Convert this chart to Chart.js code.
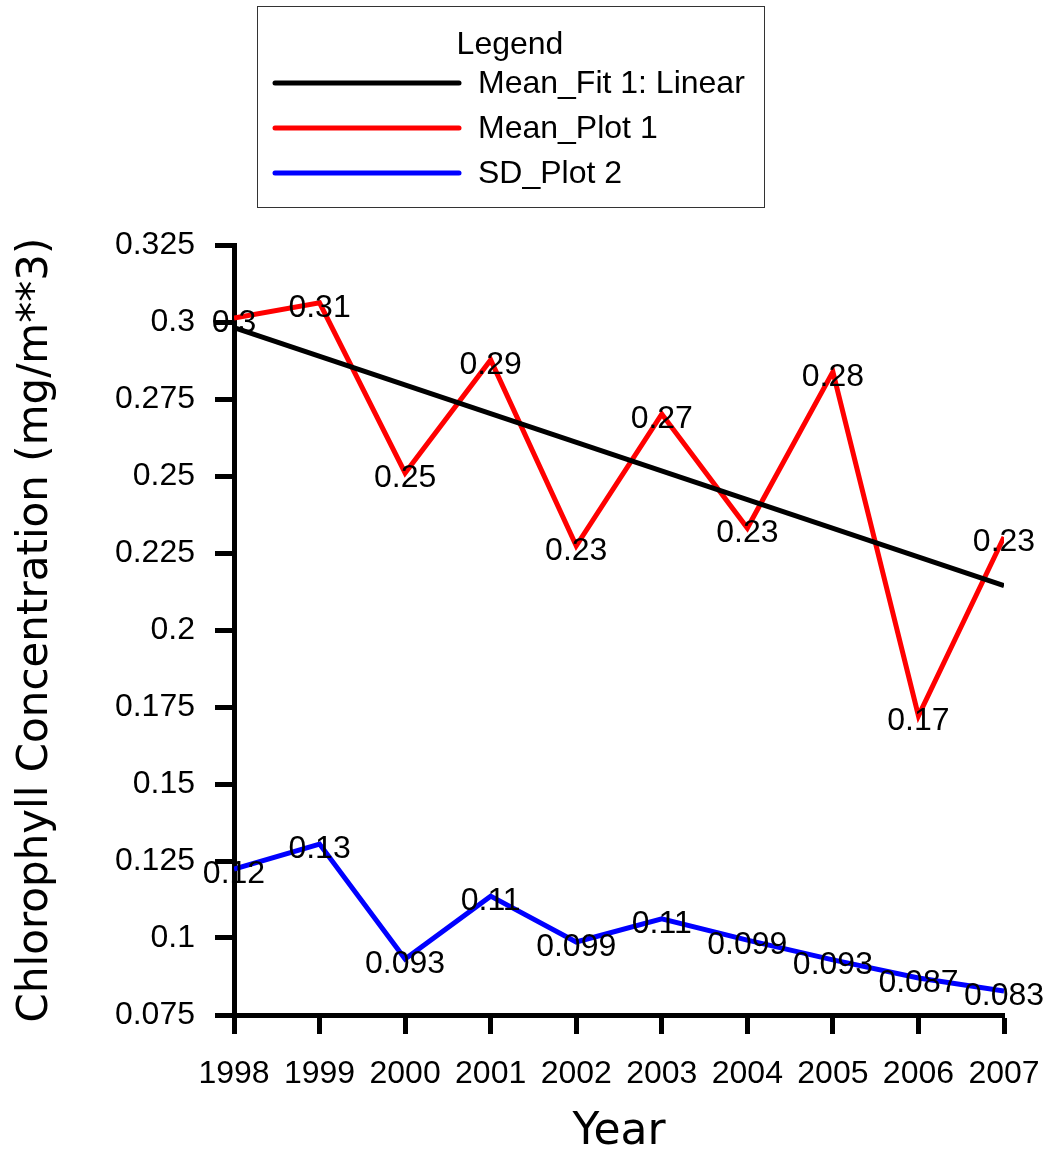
<!DOCTYPE html>
<html>
<head>
<meta charset="utf-8">
<script src="https://cdn.jsdelivr.net/npm/chart.js@4/dist/chart.umd.min.js"></script>
<style>
  html, body { margin: 0; padding: 0; background: #fff; }
  #wrap { width: 1048px; height: 1151px; }
</style>
</head>
<body>
<div id="wrap"><canvas id="chart" width="1048" height="1151"></canvas></div>
<script>
const years = [1998, 1999, 2000, 2001, 2002, 2003, 2004, 2005, 2006, 2007];
const meanValues = [0.3013, 0.3062, 0.251, 0.2877, 0.2273, 0.2701, 0.2331, 0.2838, 0.1721, 0.2302];
const sdValues = [0.1224, 0.1305, 0.0932, 0.1136, 0.0987, 0.1062, 0.0993, 0.0929, 0.0870, 0.0828];
const fitYears = [1998, 2007];
const fitValues = [0.2982, 0.2144];

const FONT = 'Liberation Sans, Arial, sans-serif';
const TITLE_FONT = 'DejaVu Sans, Verdana, sans-serif';
const TEXT_SIZE = 32;

function fmt(v) {
  return String(parseFloat(Number(v).toPrecision(2)));
}

// value labels next to each point
const pointLabels = {
  id: 'pointLabels',
  afterDatasetsDraw(chart) {
    const ctx = chart.ctx;
    ctx.save();
    ctx.font = TEXT_SIZE + 'px ' + FONT;
    ctx.fillStyle = '#000';
    ctx.textAlign = 'center';
    ctx.textBaseline = 'middle';
    chart.data.datasets.forEach((ds, i) => {
      if (!ds.showValues) return;
      chart.getDatasetMeta(i).data.forEach((pt, j) => {
        ctx.fillText(fmt(ds.data[j].y), pt.x, pt.y + 5);
      });
    });
    ctx.restore();
  }
};

// boxed legend at the top
const boxLegend = {
  id: 'boxLegend',
  afterDraw(chart) {
    const ctx = chart.ctx;
    ctx.save();
    ctx.strokeStyle = '#333';
    ctx.lineWidth = 1;
    ctx.strokeRect(257.5, 6.5, 507, 201);
    ctx.fillStyle = '#000';
    ctx.font = TEXT_SIZE + 'px ' + FONT;
    ctx.textBaseline = 'middle';
    ctx.textAlign = 'center';
    ctx.fillText('Legend', 510, 45);
    ctx.textAlign = 'left';
    chart.data.datasets.forEach((ds, k) => {
      const y = 84 + k * 45;
      ctx.strokeStyle = ds.borderColor;
      ctx.lineWidth = 5;
      ctx.lineCap = 'round';
      ctx.beginPath();
      ctx.moveTo(275, y - 1);
      ctx.lineTo(459, y - 1);
      ctx.stroke();
      ctx.fillText(ds.label, 478, y);
    });
    ctx.restore();
  }
};

const ctx = document.getElementById('chart').getContext('2d');
new Chart(ctx, {
  type: 'line',
  data: {
    datasets: [
      {
        label: 'Mean_Fit 1: Linear',
        data: fitYears.map((x, i) => ({ x: x, y: fitValues[i] })),
        borderColor: '#000000',
        borderWidth: 5,
        pointRadius: 0,
        showValues: false
      },
      {
        label: 'Mean_Plot 1',
        data: years.map((x, i) => ({ x: x, y: meanValues[i] })),
        borderColor: '#ff0000',
        borderWidth: 5,
        pointRadius: 0,
        showValues: true
      },
      {
        label: 'SD_Plot 2',
        data: years.map((x, i) => ({ x: x, y: sdValues[i] })),
        borderColor: '#0000ff',
        borderWidth: 5,
        pointRadius: 0,
        showValues: true
      }
    ]
  },
  options: {
    responsive: false,
    animation: false,
    devicePixelRatio: 1,
    layout: { padding: { top: 245, right: 44, left: 0, bottom: 0 } },
    plugins: {
      legend: { display: false },
      tooltip: { enabled: false }
    },
    scales: {
      x: {
        type: 'linear',
        min: 1998,
        max: 2007,
        afterFit(scale) {
          scale.height = 136;
          scale.paddingLeft = 0;
          scale.paddingRight = 0;
        },
        grid: { drawOnChartArea: false, drawTicks: true, tickLength: 19, tickWidth: 5, color: '#000' },
        border: { display: true, color: '#000', width: 5 },
        ticks: {
          stepSize: 1,
          padding: 21,
          color: '#000',
          font: { family: FONT, size: TEXT_SIZE },
          maxRotation: 0,
          callback: v => String(v)
        },
        title: {
          display: true,
          text: 'Year',
          color: '#000',
          font: { family: TITLE_FONT, size: 44, lineHeight: 0.85 },
          padding: { top: 0, bottom: 0 }
        }
      },
      y: {
        min: 0.075,
        max: 0.325,
        afterFit(scale) {
          scale.width = 234;
          scale.paddingTop = 0;
          scale.paddingBottom = 0;
        },
        grid: { drawOnChartArea: false, drawTicks: true, tickLength: 19, tickWidth: 5, color: '#000' },
        border: { display: true, color: '#000', width: 5 },
        ticks: {
          stepSize: 0.025,
          padding: 20,
          color: '#000',
          font: { family: FONT, size: TEXT_SIZE },
          callback: v => String(parseFloat(Number(v).toFixed(3)))
        },
        title: {
          display: true,
          text: 'Chlorophyll Concentration (mg/m**3)',
          color: '#000',
          font: { family: TITLE_FONT, size: 42, lineHeight: 1 },
          padding: { top: 15, bottom: 0 }
        }
      }
    }
  },
  plugins: [pointLabels, boxLegend]
});
</script>
</body>
</html>
